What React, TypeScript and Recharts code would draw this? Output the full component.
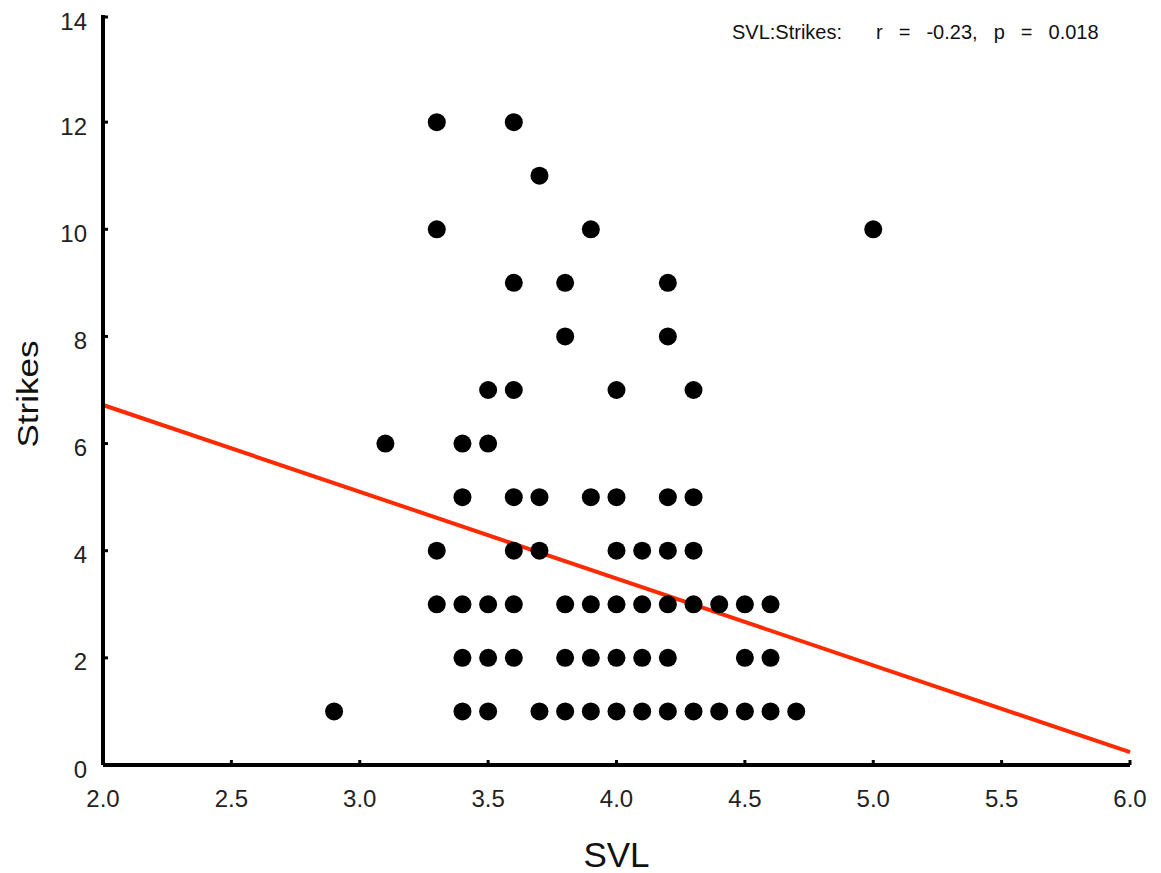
import React from "react";
import { ScatterChart, Scatter, XAxis, YAxis, ReferenceLine, Label } from "recharts";

// SVL values observed for each strike count
const strikes1 = [2.9, 3.4, 3.5, 3.7, 3.8, 3.9, 4.0, 4.1, 4.2, 4.3, 4.4, 4.5, 4.6, 4.7];
const strikes2 = [3.4, 3.5, 3.6, 3.8, 3.9, 4.0, 4.1, 4.2, 4.5, 4.6];
const strikes3 = [3.3, 3.4, 3.5, 3.6, 3.8, 3.9, 4.0, 4.1, 4.2, 4.3, 4.4, 4.5, 4.6];
const strikes4 = [3.3, 3.6, 3.7, 4.0, 4.1, 4.2, 4.3];
const strikes5 = [3.4, 3.6, 3.7, 3.9, 4.0, 4.2, 4.3];
const strikes6 = [3.1, 3.4, 3.5];
const strikes7 = [3.5, 3.6, 4.0, 4.3];
const strikes8 = [3.8, 4.2];
const strikes9 = [3.6, 3.8, 4.2];
const strikes10 = [3.3, 3.9, 5.0];
const strikes11 = [3.7];
const strikes12 = [3.3, 3.6];

const strikeRows: [number, number[]][] = [
  [1, strikes1], [2, strikes2], [3, strikes3], [4, strikes4], [5, strikes5], [6, strikes6],
  [7, strikes7], [8, strikes8], [9, strikes9], [10, strikes10], [11, strikes11], [12, strikes12],
];

const xTicks = [2.0, 2.5, 3.0, 3.5, 4.0, 4.5, 5.0, 5.5, 6.0];
const yTicks = [0, 2, 4, 6, 8, 10, 12, 14];
const regressionX = [2.0, 6.0];
const regressionY = [6.72, 0.24];
const statLabel = "SVL:Strikes:";
const statValues = "r = -0.23, p = 0.018";

const points = strikeRows.flatMap(([s, svls]) => svls.map((v) => ({ svl: v, strikes: s })));

const FONT = "'Liberation Sans', Arial, sans-serif";
const TICK_FONT = 24;

const Dot = (props: any) => <circle cx={props.cx} cy={props.cy} r={9} fill="#000" />;

// x tick: y given = axisY + tickSize(6) + tickMargin(0)
const XTick = (props: any) => {
  const { x, y, payload } = props;
  const axisY = y - 6;
  return (
    <g>
      <line x1={x} x2={x} y1={axisY} y2={axisY - 5} stroke="#000" strokeWidth={3} />
      <text x={x} y={y + 36} textAnchor="middle" fontSize={TICK_FONT} fontFamily={FONT} fill="#222">
        {Number(payload.value).toFixed(1)}
      </text>
    </g>
  );
};

// y tick: x given = axisX - tickSize(6) - tickMargin(10)
const YTick = (props: any) => {
  const { x, y, payload } = props;
  const axisX = x + 16;
  return (
    <g>
      <line x1={axisX} x2={axisX + 5} y1={y} y2={y} stroke="#000" strokeWidth={3} />
      <text x={x} y={y + 12.5} textAnchor="end" fontSize={TICK_FONT} fontFamily={FONT} fill="#222">
        {payload.value}
      </text>
    </g>
  );
};

const XTitle = (props: any) => {
  const vb = props.viewBox || { x: 95, y: 757, width: 1027, height: 50 };
  return (
    <text x={vb.x + vb.width / 2} y={vb.y + 102} textAnchor="middle" fontSize={35} fontFamily={FONT} fill="#111">
      SVL
    </text>
  );
};

const YTitle = (props: any) => {
  const vb = props.viewBox || { x: 35, y: 7, width: 60, height: 750 };
  const cx = vb.x - 15.5;
  const cy = vb.y + vb.height / 2 + 4;
  return (
    <text
      x={cx}
      y={cy}
      transform={`rotate(-90 ${cx} ${cy})`}
      textAnchor="middle"
      dominantBaseline="central"
      fontSize={29}
      fontFamily={FONT}
      fill="#111"
      textLength={107}
      lengthAdjust="spacingAndGlyphs"
    >
      Strikes
    </text>
  );
};

export default function App() {
  return (
    <div style={{ position: "relative", width: 1145, height: 865, fontFamily: FONT }}>
      <ScatterChart width={1145} height={865} margin={{ top: 7, right: 23, bottom: 58, left: 35 }}>
        <XAxis
          type="number"
          dataKey="svl"
          domain={[2, 6]}
          ticks={xTicks}
          axisLine={{ stroke: "#000", strokeWidth: 4 }}
          tickLine={false}
          tickSize={6}
          tickMargin={0}
          tick={<XTick />}
          height={50}
          allowDataOverflow
        >
          <Label content={<XTitle />} />
        </XAxis>
        <YAxis
          type="number"
          dataKey="strikes"
          domain={[0, 14]}
          ticks={yTicks}
          axisLine={{ stroke: "#000", strokeWidth: 4 }}
          tickLine={false}
          tickSize={6}
          tickMargin={10}
          tick={<YTick />}
          width={60}
          allowDataOverflow
        >
          <Label content={<YTitle />} />
        </YAxis>
        <ReferenceLine
          segment={[{ x: regressionX[0], y: regressionY[0] }, { x: regressionX[1], y: regressionY[1] }]}
          stroke="#ff2a00"
          strokeWidth={4}
          ifOverflow="visible"
        />
        <Scatter data={points} shape={Dot} isAnimationActive={false} />
      </ScatterChart>
      <div
        style={{
          position: "absolute",
          left: 724,
          top: 13,
          fontSize: 20,
          color: "#111",
          whiteSpace: "pre",
          fontFamily: FONT,
        }}
      >
        {statLabel}
      </div>
      <div
        style={{
          position: "absolute",
          left: 868,
          top: 13,
          fontSize: 20,
          wordSpacing: "10.5px",
          color: "#111",
          whiteSpace: "pre",
          fontFamily: FONT,
        }}
      >
        {statValues}
      </div>
    </div>
  );
}
